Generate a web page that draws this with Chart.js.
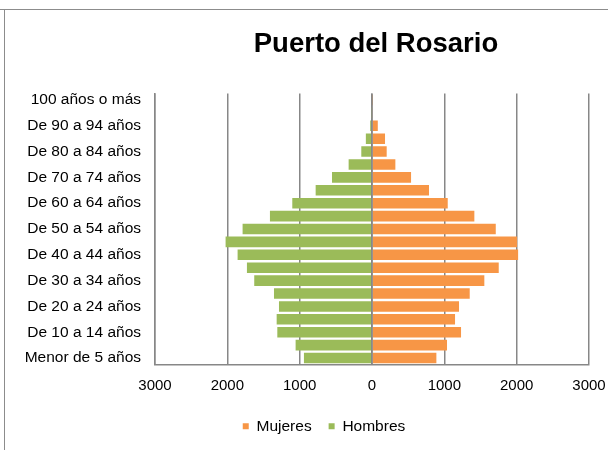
<!DOCTYPE html>
<html>
<head>
<meta charset="utf-8">
<title>Puerto del Rosario</title>
<script src="https://cdn.jsdelivr.net/npm/chart.js@4"></script>
<style>
  html, body { margin: 0; padding: 0; background: #fff; }
  #wrap { position: relative; width: 608px; height: 450px; overflow: hidden; }
  #wrap canvas { position: absolute; left: 0; top: 0; }
  .frame-top { position: absolute; left: 0; top: 9px; width: 608px; height: 0; border-top: 1px solid #8c8c8c; }
  .frame-left { position: absolute; left: 4px; top: 9px; width: 0; height: 441px; border-left: 1px solid #8c8c8c; }
</style>
</head>
<body>
<div id="wrap">
  <canvas id="pyramid" width="608" height="450"></canvas>
  <div class="frame-top"></div>
  <div class="frame-left"></div>
</div>
<script>
// Age groups, youngest first (drawn bottom to top)
const ageGroups = [
  'Menor de 5 años', 'De 5 a 9 años', 'De 10 a 14 años', 'De 15 a 19 años',
  'De 20 a 24 años', 'De 25 a 29 años', 'De 30 a 34 años', 'De 35 a 39 años',
  'De 40 a 44 años', 'De 45 a 49 años', 'De 50 a 54 años', 'De 55 a 59 años',
  'De 60 a 64 años', 'De 65 a 69 años', 'De 70 a 74 años', 'De 75 a 79 años',
  'De 80 a 84 años', 'De 85 a 89 años', 'De 90 a 94 años', 'De 95 a 99 años',
  '100 años o más'
];

// Population by sex for each age group
const mujeres = [890, 1037, 1231, 1148, 1203, 1351, 1553, 1752, 2020, 2006, 1711,
                 1415, 1047, 788, 540, 323, 203, 180, 80, 8, 1];
const hombres = [941, 1056, 1309, 1318, 1286, 1355, 1628, 1729, 1858, 2024, 1789,
                 1411, 1102, 779, 553, 323, 148, 85, 25, 2, 0];

// Horizontal axis range and step
const xMin = -3000;
const xMax = 3000;
const xStep = 1000;

const gridColor = '#878787';
const fontFamily = '"Liberation Sans", Arial, Helvetica, sans-serif';

Chart.defaults.font.family = fontFamily;
Chart.defaults.color = '#000';

// Centre the title over the plot area and nudge the legend
const placeBlocks = {
  id: 'placeBlocks',
  afterLayout(chart) {
    const area = chart.chartArea;
    const t = chart.titleBlock;
    if (t) {
      t.left = area.left + 4;
      t.right = area.right + 4;
      t.width = area.right - area.left;
    }
    const l = chart.legend;
    if (l) {
      l.left += 20;
      l.right += 20;
    }
  }
};

// Vertical line at zero, drawn over the bars
const zeroLine = {
  id: 'zeroLine',
  afterDatasetsDraw(chart) {
    const ctx = chart.ctx;
    const x = chart.scales.x.getPixelForValue(0);
    const { top, bottom } = chart.chartArea;
    ctx.save();
    ctx.strokeStyle = gridColor;
    ctx.lineWidth = 1.5;
    ctx.beginPath();
    ctx.moveTo(x, top);
    ctx.lineTo(x, bottom);
    ctx.stroke();
    ctx.restore();
  }
};

new Chart(document.getElementById('pyramid'), {
  type: 'bar',
  data: {
    labels: ageGroups,
    datasets: [
      {
        label: 'Mujeres',
        data: mujeres,
        backgroundColor: '#F79646',
        borderWidth: 0
      },
      {
        label: 'Hombres',
        data: hombres.map(v => -v),
        backgroundColor: '#9BBB59',
        borderWidth: 0
      }
    ]
  },
  options: {
    indexAxis: 'y',
    responsive: false,
    animation: false,
    devicePixelRatio: 1,
    layout: { padding: { top: 12, right: 0, bottom: 6, left: 0 } },
    datasets: {
      bar: { categoryPercentage: 1, barPercentage: 0.82 }
    },
    scales: {
      x: {
        type: 'linear',
        min: xMin,
        max: xMax,
        afterFit(scale) {
          scale.paddingRight = 19;
          scale.height -= 5;
        },
        ticks: {
          stepSize: xStep,
          padding: 12,
          color: '#000',
          font: { size: 15 },
          callback: v => String(Math.abs(v))
        },
        grid: {
          color: gridColor,
          lineWidth: 1.5,
          drawTicks: false
        },
        border: { display: true, color: gridColor, width: 1.5 }
      },
      y: {
        type: 'category',
        stacked: true,
        reverse: true,
        afterFit(scale) { scale.width = 155; },
        ticks: {
          autoSkip: false,
          padding: 14,
          color: '#000',
          font: { size: 15.5 },
          callback(value, index) {
            return index % 2 === 0 ? this.getLabelForValue(value) : '';
          }
        },
        grid: { display: false, drawTicks: false },
        border: { display: true, color: gridColor, width: 1.5 }
      }
    },
    plugins: {
      title: {
        display: true,
        text: 'Puerto del Rosario',
        color: '#000',
        font: { size: 27.5, weight: 'bold' },
        padding: { top: 16, bottom: 32.5 }
      },
      legend: {
        display: true,
        position: 'bottom',
        labels: {
          boxWidth: 6,
          boxHeight: 6,
          padding: 17,
          color: '#000',
          font: { size: 15.5 }
        }
      },
      tooltip: { enabled: false }
    }
  },
  plugins: [placeBlocks, zeroLine]
});
</script>
</body>
</html>
